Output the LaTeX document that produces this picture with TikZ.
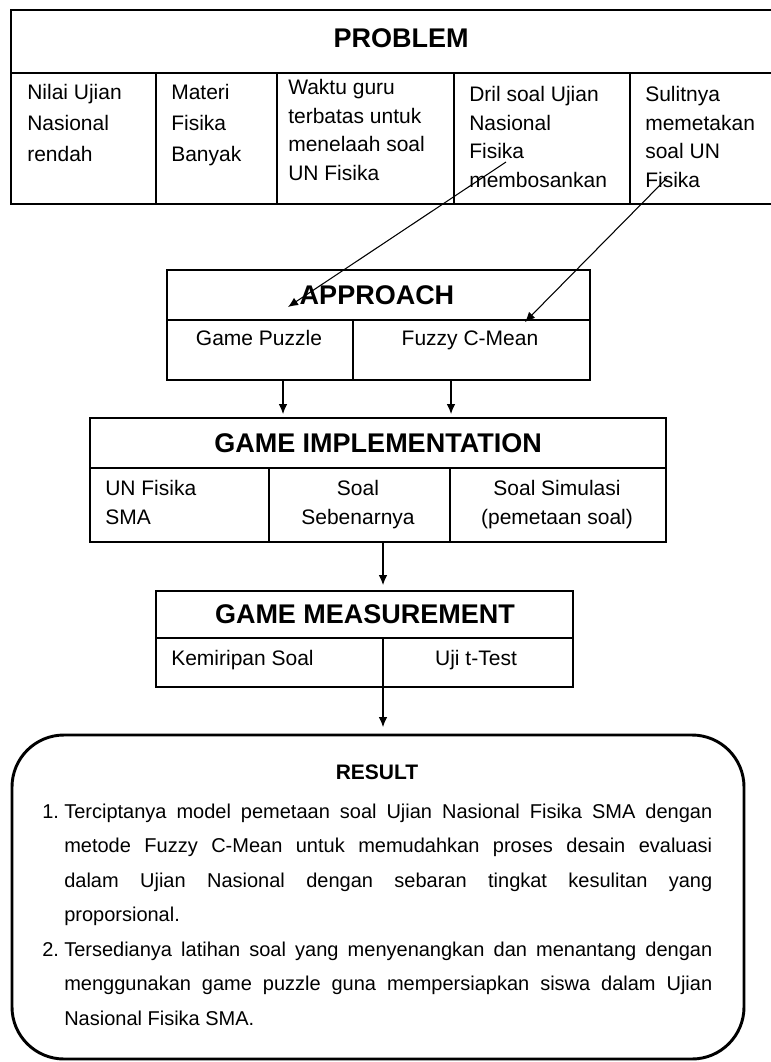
\documentclass[tikz,border=0pt]{standalone}
\usepackage{fontspec}
\setmainfont{Liberation Sans}
\usetikzlibrary{arrows.meta}
\newcommand\mycell[3]{\parbox[t]{#1}{\fontsize{15.75}{#2}\selectfont #3}}
\newcommand\mycellc[3]{\parbox[t]{#1}{\centering\fontsize{15.75}{#2}\selectfont #3}}
\begin{document}
\begin{tikzpicture}[x=0.75pt,y=-0.75pt,
  ln/.style={line width=1.2pt},
  arr/.style={line width=0.8pt,-{Latex[length=7.5pt,width=6.5pt]}},
  head/.style={font=\bfseries\fontsize{20.25}{24}\selectfont,inner sep=0},
  cell/.style={font=\fontsize{15.75}{19}\selectfont,inner sep=0},
  rbox/.style={line width=2.2pt,rounded corners=39pt}]
\useasboundingbox[fill=white] (0,0) rectangle (770,1062);
% PROBLEM table
\draw[ln] (772,10) -- (11,10) -- (11,204) -- (772,204);
\draw[ln] (11,73) -- (772,73);
\foreach \xx in {156,277,454,630} \draw[ln] (\xx,73) -- (\xx,204);
\node[head] (problem) at (401,38) {PROBLEM};
\node[cell,anchor=base west] (c1) at (27,100) {\mycell{110pt}{23.25pt}{Nilai Ujian\\Nasional\\rendah}};
\node[cell,anchor=base west] (c2) at (171,100) {\mycell{80pt}{23.25pt}{Materi\\Fisika\\Banyak}};
\node[cell,anchor=base west] (c3) at (288,95) {\mycell{125pt}{21.3pt}{Waktu guru\\terbatas untuk\\menelaah soal\\UN Fisika}};
\node[cell,anchor=base west] (c4) at (469,102) {\mycell{120pt}{21.3pt}{Dril soal Ujian\\Nasional\\Fisika\\membosankan}};
\node[cell,anchor=base west] (c5) at (645,102) {\mycell{90pt}{21.3pt}{Sulitnya\\memetakan\\soal UN\\Fisika}};
% APPROACH
\draw[ln] (167,270) rectangle (590,380);
\draw[ln] (167,320) -- (590,320);
\draw[ln] (353,320) -- (353,380);
\node[head] (approach) at (377,295) {APPROACH};
\node[cell,anchor=base] (gp) at (259,345) {Game Puzzle};
\node[cell,anchor=base] (fcm) at (470,345) {Fuzzy C-Mean};
\coordinate (a1s) at (506,162);
\coordinate (a1e) at (288,307);
\coordinate (a2s) at (667,178);
\coordinate (a2e) at (525,322);
\draw[arr] (a1s) -- (a1e);
\draw[arr] (a2s) -- (a2e);
% GAME IMPLEMENTATION
\coordinate (gpb) at (283,380);
\coordinate (gpt) at (283,414);
\coordinate (fcb) at (451,380);
\coordinate (fct) at (451,414);
\draw[arr] (gpb) -- (gpt);
\draw[arr] (fcb) -- (fct);
\draw[ln] (90,418) rectangle (666,542);
\draw[ln] (90,468) -- (666,468);
\draw[ln] (269,468) -- (269,542);
\draw[ln] (450,468) -- (450,542);
\node[head] (impl) at (378,443) {GAME IMPLEMENTATION};
\node[cell,anchor=base west] (i1) at (105,495) {\mycell{100pt}{21.75pt}{UN Fisika\\SMA}};
\node[cell,anchor=base] (i2) at (358,495) {\mycellc{120pt}{21.75pt}{Soal\\Sebenarnya}};
\node[cell,anchor=base] (i3) at (557,495) {\mycellc{150pt}{21.75pt}{Soal Simulasi\\(pemetaan soal)}};
% GAME MEASUREMENT
\coordinate (ib) at (383,542);
\coordinate (mt) at (383,585);
\draw[arr] (ib) -- (mt);
\draw[ln] (156,591) rectangle (573,687);
\draw[ln] (156,638) -- (573,638);
\draw[ln] (383,638) -- (383,687);
\node[head] (meas) at (365,614) {GAME MEASUREMENT};
\node[cell,anchor=base west] (m1) at (171,665) {Kemiripan Soal};
\node[cell,anchor=base] (m2) at (476,665) {Uji t-Test};
% RESULT
\coordinate (mb) at (383,687);
\coordinate (rt) at (383,727);
\draw[arr] (mb) -- (rt);
\draw[rbox] (12,735) rectangle (744,1059);
\node[font=\bfseries\fontsize{15.75}{19}\selectfont,inner sep=0] (result) at (377,772) {RESULT};
\node[anchor=base west,inner sep=0] (body) at (42,818) {\parbox[t]{502.5pt}{\fontsize{15}{25.875pt}\selectfont
\noindent\makebox[16.5pt][l]{1.}\makebox[486pt][s]{Terciptanya model pemetaan soal Ujian Nasional Fisika SMA dengan}\\
\hspace*{16.5pt}\makebox[486pt][s]{metode Fuzzy C-Mean untuk memudahkan proses desain evaluasi}\\
\hspace*{16.5pt}\makebox[486pt][s]{dalam Ujian Nasional dengan sebaran tingkat kesulitan yang}\\
\hspace*{16.5pt}proporsional.\\
\makebox[16.5pt][l]{2.}\makebox[486pt][s]{Tersedianya latihan soal yang menyenangkan dan menantang dengan}\\
\hspace*{16.5pt}\makebox[486pt][s]{menggunakan game puzzle guna mempersiapkan siswa dalam Ujian}\\
\hspace*{16.5pt}Nasional Fisika SMA.}};
\end{tikzpicture}
\end{document}
